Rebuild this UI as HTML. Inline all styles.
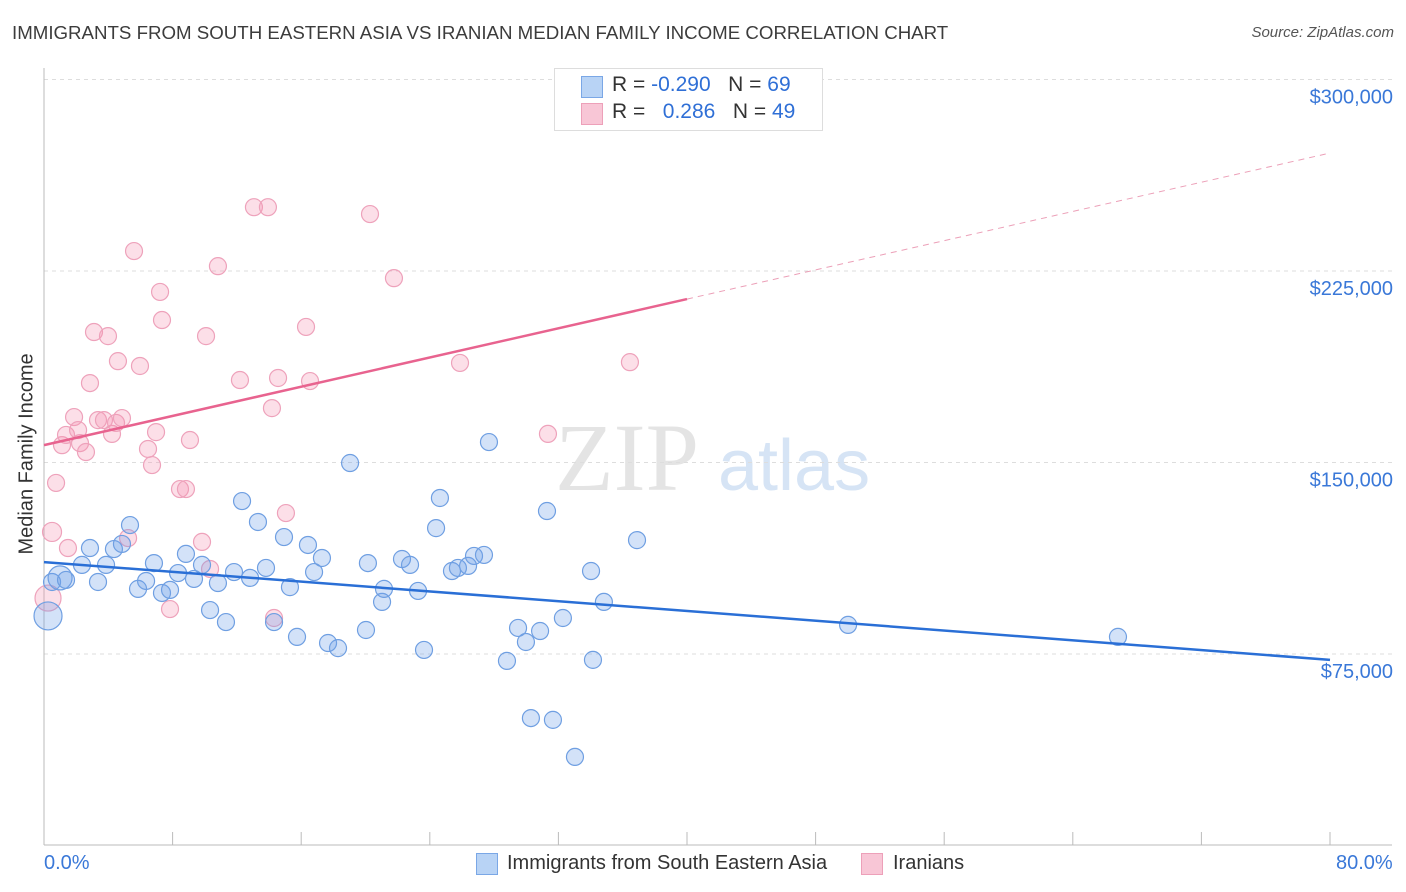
<!DOCTYPE html>
<html><head><meta charset="utf-8"><style>
body{margin:0;background:#fff;font-family:"Liberation Sans",sans-serif;}
#wrap{position:relative;width:1406px;height:892px;overflow:hidden;}
.t{position:absolute;white-space:nowrap;}
</style></head><body>
<div id="wrap">
<div class="t" style="left:12px;top:22px;font-size:18.7px;color:#3c3c3c;">IMMIGRANTS FROM SOUTH EASTERN ASIA VS IRANIAN MEDIAN FAMILY INCOME CORRELATION CHART</div>
<div class="t" style="right:12px;top:24px;font-size:15px;color:#555;font-style:italic;">Source: ZipAtlas.com</div>
<div class="t" style="left:-73px;top:443px;font-size:20px;color:#333;transform:rotate(-90deg);transform-origin:center;width:200px;text-align:center;">Median Family Income</div>
<svg id="chart" width="1406" height="892" style="position:absolute;left:0;top:0"></svg>
<div class="t" style="left:554px;top:68px;width:267px;height:61px;border:1px solid #ddd;background:#fff;"></div>
<div class="t" style="left:581px;top:76px;width:20px;height:20px;background:#b8d3f5;border:1px solid #7aa7e6;"></div>
<div class="t" style="left:612px;top:73px;font-size:21px;color:#333;">R = <span style="color:#2f6fd6">-0.290</span>&nbsp;&nbsp;&nbsp;N = <span style="color:#2f6fd6">69</span></div>
<div class="t" style="left:581px;top:103px;width:20px;height:20px;background:#f8c6d6;border:1px solid #eda0b9;"></div>
<div class="t" style="left:612px;top:100px;font-size:21px;color:#333;">R = &nbsp;&nbsp;<span style="color:#2f6fd6">0.286</span>&nbsp;&nbsp;&nbsp;N = <span style="color:#2f6fd6">49</span></div>
<div class="t" style="left:44px;top:852px;font-size:20px;color:#3a78d8;">0.0%</div>
<div class="t" style="left:1336px;top:852px;font-size:20px;color:#3a78d8;">80.0%</div>
<div class="t" style="left:476px;top:853px;width:20px;height:20px;background:#b8d3f5;border:1px solid #7aa7e6;"></div>
<div class="t" style="left:507px;top:852px;font-size:20px;color:#333;">Immigrants from South Eastern Asia</div>
<div class="t" style="left:861px;top:853px;width:20px;height:20px;background:#f8c6d6;border:1px solid #eda0b9;"></div>
<div class="t" style="left:893px;top:852px;font-size:20px;color:#333;">Iranians</div>
</div>
<script>
const yTicks=[75000,150000,225000,300000];
const yTickLabels=["$75,000","$150,000","$225,000","$300,000"];
const blueX=[0.5,1.0,1.37,2.36,2.86,3.36,3.86,4.35,4.85,5.35,5.85,6.35,6.84,7.34,7.84,8.34,8.83,9.33,9.83,10.33,10.82,11.32,11.82,12.32,12.82,13.31,13.81,14.31,14.93,15.3,15.74,16.42,16.8,17.29,17.67,18.29,19.04,20.03,20.15,21.03,21.15,22.27,22.77,23.27,23.64,24.39,24.63,25.38,25.75,26.38,26.75,27.37,27.68,28.8,29.49,29.98,30.29,30.86,31.29,31.66,32.28,33.03,34.03,34.15,34.83,36.89,50.02,66.81,0.25];
const blueY=[103.2,104.8,104.0,109.9,116.5,103.2,109.9,116.1,118.1,125.5,100.5,103.6,110.6,98.9,100.1,106.7,114.2,104.4,109.9,92.2,102.8,87.5,107.1,134.9,104.8,126.7,108.7,87.5,120.8,101.2,81.7,117.7,107.1,112.6,79.3,77.3,149.8,84.4,110.6,95.4,100.5,112.2,109.9,99.7,76.6,124.3,136.1,107.5,108.7,109.5,113.4,113.8,158.0,72.3,85.2,79.7,49.9,84.0,131.0,49.2,89.1,34.7,107.5,72.7,95.4,119.6,86.4,81.7,89.9];
const pinkX=[0.25,0.5,0.75,1.12,1.37,1.49,1.87,2.12,2.24,2.61,2.86,3.11,3.36,3.73,3.98,4.23,4.48,4.6,4.85,5.23,5.6,5.97,6.47,6.72,6.97,7.22,7.34,7.84,8.46,8.83,9.08,9.83,10.08,10.33,10.82,12.19,13.06,13.93,14.18,14.56,15.05,14.31,16.3,16.55,20.28,21.77,25.88,31.35,36.45];
const pinkY=[96.9,122.8,142.0,156.8,160.8,116.5,167.8,162.7,157.6,154.1,181.1,201.1,166.6,166.6,199.5,161.2,165.5,189.7,167.4,120.4,232.8,187.8,155.3,149.0,161.9,216.8,205.8,92.6,139.6,139.6,158.8,118.9,199.5,108.3,226.9,182.3,250.0,250.0,171.3,183.1,130.2,89.1,203.1,181.9,247.3,222.2,189.0,161.2,189.3];
const blueLine=[111.0,72.7];
const pinkLine=[156.8,271.2];
const NS="http://www.w3.org/2000/svg";
const svg=document.getElementById('chart');
const X=p=>44+p/80*1286;
const Y=v=>654-(v-75000)/75000*191.5;
function mk(t,a){const e=document.createElementNS(NS,t);for(const k in a)e.setAttribute(k,a[k]);svg.appendChild(e);return e;}
let w=mk('text',{x:555,y:490,'font-size':96,fill:'#e4e4e4','font-family':'Liberation Serif'});w.textContent='ZIP';


let w2=mk('text',{x:718,y:490,'font-size':72,fill:'#d6e4f5','font-family':'Liberation Sans'});w2.textContent='atlas';


yTicks.forEach((v,i)=>{
 const g=mk('line',{x1:44,x2:1392,y1:Y(v),y2:Y(v),stroke:'#ddd','stroke-dasharray':'4,4'});
 
 
 const t=mk('text',{x:1393,y:Y(v)+24,'text-anchor':'end','font-size':20,fill:'#3a78d8','font-family':'Liberation Sans'});
 t.textContent=yTickLabels[i];
 
 
});
let ax=mk('line',{x1:44,x2:44,y1:68,y2:845,stroke:'#bbb'});


let bx=mk('line',{x1:44,x2:1392,y1:845,y2:845,stroke:'#bbb'});


for(let i=1;i<=10;i++){const tk=mk('line',{x1:X(i*8),x2:X(i*8),y1:832,y2:845,stroke:'#bbb'});
 
 }
function dot(x,y,r,fill,st,name){const c=mk('circle',{cx:X(x),cy:Y(y*1000),r:r,fill:fill,stroke:st,'stroke-width':1.2});
 
 }
pinkX.forEach((x,i)=>dot(x,pinkY[i],i==0?13:(i==1?9.5:8.5),'rgba(244,150,180,0.3)','#eea2bb','iranian-point'));
blueX.forEach((x,i)=>dot(x,blueY[i],i==68?14:(i==1?12:8.5),'rgba(110,160,232,0.3)','#6f9fe2','sea-point'));
let bl=mk('line',{x1:X(0),y1:Y(blueLine[0]*1000),x2:X(80),y2:Y(blueLine[1]*1000),stroke:'#2a6fd6','stroke-width':2.5});


const pm=(pinkLine[0]+pinkLine[1])/2;
let pl=mk('line',{x1:X(0),y1:Y(pinkLine[0]*1000),x2:X(40),y2:Y(pm*1000),stroke:'#e8638f','stroke-width':2.5});


let pd=mk('line',{x1:X(40),y1:Y(pm*1000),x2:X(80),y2:Y(pinkLine[1]*1000),stroke:'#eca0b8','stroke-width':1,'stroke-dasharray':'6,5'});


</script>
</body></html>
